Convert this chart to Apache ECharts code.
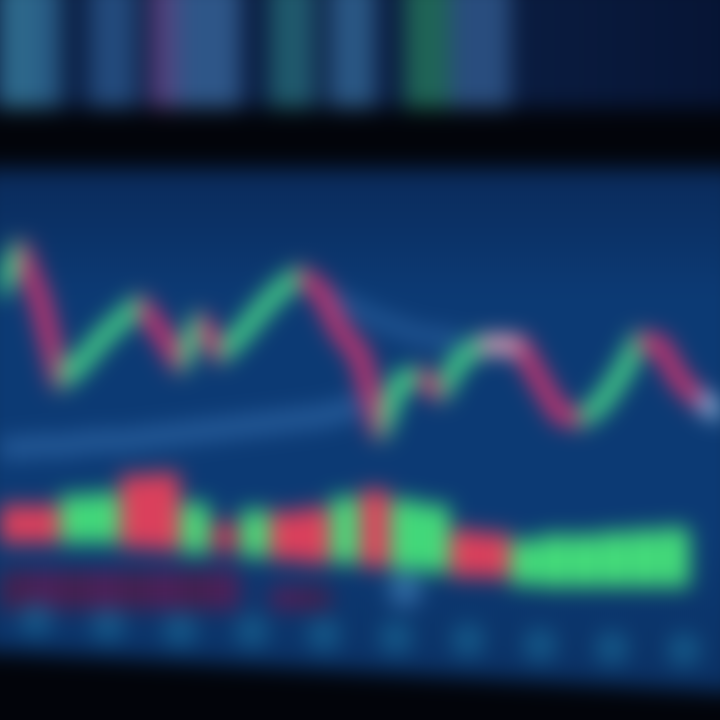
<!DOCTYPE html>
<html><head><meta charset="utf-8">
<script src="https://cdn.jsdelivr.net/npm/echarts@6/dist/echarts.min.js"></script>
<style>
html,body{margin:0;padding:0;background:#02040a;overflow:hidden;width:720px;height:720px;}
#chart{position:absolute;left:-20px;top:-20px;width:760px;height:760px;filter:blur(11px);}
</style></head><body>
<div id="chart"></div>
<script>
// ---- data ----
const priceIdx = Array.from({length:37},(_,i)=>'t'+i);
const priceValues = [71,88,67,33,40,50,58,65,54,40,58,44,52,62,71,77,71,54,44,12,33,35,28,42,48,48,48,33,19,17,23,35,50,48,33,25,20];
const maLowValues = [5,5,6,6,7,8,8,9,10,11,12,13,14,15,16,17,18,20,23,null,null,null,null,null,null,null,null,null,null,null,null,null,null,null,null,null,null];
const maHighValues = [null,null,null,null,null,null,null,null,null,null,null,null,null,null,null,null,70,66,62,58,55,52,51,50,null,null,null,null,null,null,null,null,null,null,null,null,null];
const volIdx = Array.from({length:24},(_,i)=>'v'+i);
const volBase =   [57,57,57,57,52,50,47,48,43,40,37,37,33,30,28,23,22,15,13,13,13,13,13,0];
const volHeight = [38,38,48,50,73,77,50,30,47,48,55,66,77,70,67,47,45,45,52,52,55,57,59,0];
const volUp =     [0,0,1,1,0,0,1,0,1,0,0,1,0,1,1,0,0,1,1,1,1,1,1,1];
const macdValues = [100,100,100,100,100,100,100,100,0,60,60,0,0,0,0,0,0,0,0,0,0,0,0,0];
const spotIdx = ['s0','s1','s2','s3','s4','s5','s6','s7','s8','s9','s10','s11','s12','s13','s14','s15','s16','s17','s18','s19','s20','s21','s22','s23'];
const spotValues = [null,null,null,null,null,null,null,null,null,null,null,null,null,50,null,null,null,null,null,null,null,null,null,null];
const dotIdx = Array.from({length:10},(_,i)=>'d'+i);
const dotValues = [67,58,50,48,42,37,33,25,20,17];
const topIdx = Array.from({length:48},(_,i)=>'c'+i);
const topValues = [100,100,100,100,0,0,100,100,100,0,100,100,100,100,100,100,0,0,100,100,100,0,100,100,100,0,0,100,100,100,100,100,100,100,0,0,0,0,0,0,0,0,0,0,0,0,0,0];
const topColors = ['#2e6a8c','#2e6a8c','#2a6088','#285a84',null,null,'#234a7c','#234a7c','#234a7c',null,'#553a76','#4a4a84','#2e5688','#2e5688','#2e5688','#2e5688',null,null,'#1f5a6c','#1f5a6c','#21566e',null,'#2a5784','#2a5784','#2a5784',null,null,'#1f6456','#1f6456','#1f6456','#294d7e','#294d7e','#294d7e','#294d7e'];

const GREEN='#4ade88', RED='#d8336e', FLAT='#eaa8b8', FADE='#9cc4e6';
const pieces=[];
for(let i=0;i<priceValues.length-1;i++){
  const d=priceValues[i+1]-priceValues[i];
  let c = d>0?GREEN:(d<0?RED:FLAT);
  if(i===priceValues.length-2) c=FADE;
  pieces.push({gte:i,lt:i+1,color:c});
}

const chart=echarts.init(document.getElementById('chart'));
const hideX=(gi,data,bg)=>({type:'category',gridIndex:gi,data:data,boundaryGap:bg,show:false});
const hideY=(gi,max)=>({type:'value',gridIndex:gi,min:0,max:max,show:false});
chart.setOption({
  backgroundColor:'#02040a',
  animation:false,
  graphic:[{type:'polygon',z:100,shape:{points:[[0,672],[20,672],[740,712],[760,712],[760,760],[0,760]]},style:{fill:'#02040a'}}],
  grid:[
    {left:0,right:0,top:0,height:128,show:true,borderWidth:0,
     backgroundColor:new echarts.graphic.LinearGradient(0,0,1,0,[{offset:0,color:'#0c2248'},{offset:0.7,color:'#0a1c40'},{offset:1,color:'#061434'}])},
    {left:0,right:0,top:188,height:572,show:true,borderWidth:0,
     backgroundColor:new echarts.graphic.LinearGradient(0,0,0,1,[{offset:0,color:'#0a2a5a'},{offset:0.22,color:'#0c3a74'},{offset:0.65,color:'#0c3a74'},{offset:1,color:'#0a2d5e'}])},
    {left:20,right:20,top:240,height:240},
    {left:20,right:20,top:480,height:140},
    {left:20,right:20,top:590,height:40},
    {left:20,right:20,top:620,height:60},
    {left:20,right:20,top:0,height:128}
  ],
  xAxis:[hideX(6,topIdx,true),hideX(1,['a'],true),hideX(2,priceIdx,false),hideX(3,volIdx,true),hideX(4,spotIdx,true),hideX(5,dotIdx,true),hideX(0,['b'],true)],
  yAxis:[hideY(6,100),hideY(1,100),hideY(2,100),hideY(3,140),hideY(4,100),hideY(5,100),hideY(0,100)],
  visualMap:{show:false,type:'piecewise',seriesIndex:3,dimension:0,pieces:pieces},
  series:[
    {type:'bar',xAxisIndex:0,yAxisIndex:0,barCategoryGap:'0%',
     data:topValues.map((v,i)=>({value:v,itemStyle:{color:topColors[i]||'#0a1c40'}}))},
    {type:'line',xAxisIndex:2,yAxisIndex:2,data:maLowValues,smooth:true,symbol:'none',
     lineStyle:{width:20,color:'rgba(60,120,185,0.55)'}},
    {type:'line',xAxisIndex:2,yAxisIndex:2,data:maHighValues,smooth:true,symbol:'none',
     lineStyle:{width:18,color:'rgba(60,120,185,0.45)'}},
    {type:'line',xAxisIndex:2,yAxisIndex:2,data:priceValues,symbol:'none',clip:false,
     lineStyle:{width:18,join:'round',cap:'round'}},
    {type:'bar',xAxisIndex:3,yAxisIndex:3,stack:'vol',barCategoryGap:'6%',
     data:volBase,itemStyle:{color:'transparent'}},
    {type:'bar',xAxisIndex:3,yAxisIndex:3,stack:'vol',barCategoryGap:'6%',
     data:volHeight.map((v,i)=>({value:v,itemStyle:{color:volUp[i]?'#46e27a':(i===7?'#b83258':'#e8405a')}}))},
    {type:'bar',xAxisIndex:4,yAxisIndex:4,barCategoryGap:'0%',
     data:macdValues.map((v,i)=>({value:v,itemStyle:{color:i%2?'#4d2058':'#44204f'}}))},
    {type:'scatter',xAxisIndex:4,yAxisIndex:4,data:spotValues,symbolSize:34,
     itemStyle:{color:'#3a78b0'}},
    {type:'scatter',xAxisIndex:5,yAxisIndex:5,data:dotValues,symbolSize:34,
     itemStyle:{color:'#17608f'}}
  ]
});
</script>
</body></html>
